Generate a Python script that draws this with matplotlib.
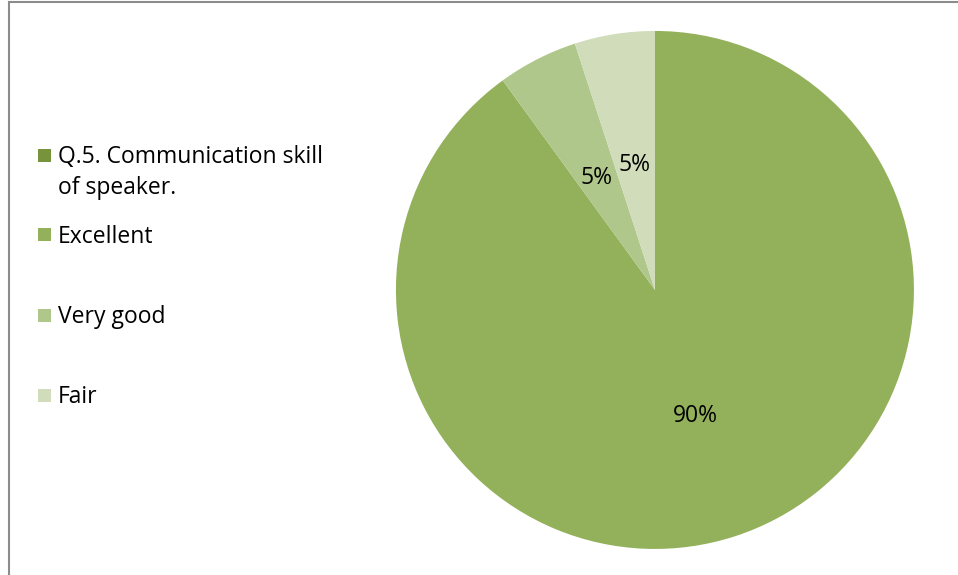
import matplotlib
matplotlib.use("Agg")
import matplotlib.pyplot as plt
import matplotlib.patches as mpatches
import numpy as np

plt.rcParams['font.family'] = ['Open Sans', 'DejaVu Sans']

categories = ["Q.5. Communication skill\nof speaker.", "Excellent", "Very good", "Fair"]
values = [0, 90, 5, 5]
colors = ["#77933C", "#93B05A", "#AFC78A", "#D0DCBA"]

fig = plt.figure(figsize=(9.58, 5.75), dpi=100)
ax = fig.add_axes([0.4133, 0.0453, 0.5407, 0.9009])

pie_vals = [v for v in values if v > 0]
pie_cols = [c for v, c in zip(values, colors) if v > 0]
wedges, _ = ax.pie(pie_vals, colors=pie_cols, startangle=90, counterclock=False,
                   radius=1.0, wedgeprops=dict(linewidth=0))
total = sum(pie_vals)
for w, v in zip(wedges, pie_vals):
    mid = np.deg2rad((w.theta1 + w.theta2) / 2)
    r = 0.5
    ax.text(r * np.cos(mid), r * np.sin(mid), f"{v / total * 100:.0f}%",
            ha="center", va="center_baseline", fontsize=16.5, color="black")
ax.set_xlim(-1, 1)
ax.set_ylim(-1, 1)
ax.set_aspect("equal")
ax.axis("off")

# legend
y0 = 1 - 155 / 575
step = 80 / 575
for i, (cat, col) in enumerate(zip(categories, colors)):
    y = y0 - i * step
    fig.patches.append(mpatches.Rectangle((38 / 958, y - 6.5 / 575), 13 / 958, 13 / 575,
                                          transform=fig.transFigure, facecolor=col,
                                          edgecolor="none"))
    fig.text(58 / 958, y + 10 / 575, cat, ha="left", va="top", fontsize=16.5,
             color="black", linespacing=1.4)

# border
fig.patches.append(mpatches.Rectangle((8.5 / 958, -0.1), 1.2, 1.1 - 2.5 / 575,
                                      transform=fig.transFigure, facecolor="none",
                                      edgecolor="#8C8C8C", linewidth=1.5, clip_on=False))

fig.savefig("out.png", dpi=100)
